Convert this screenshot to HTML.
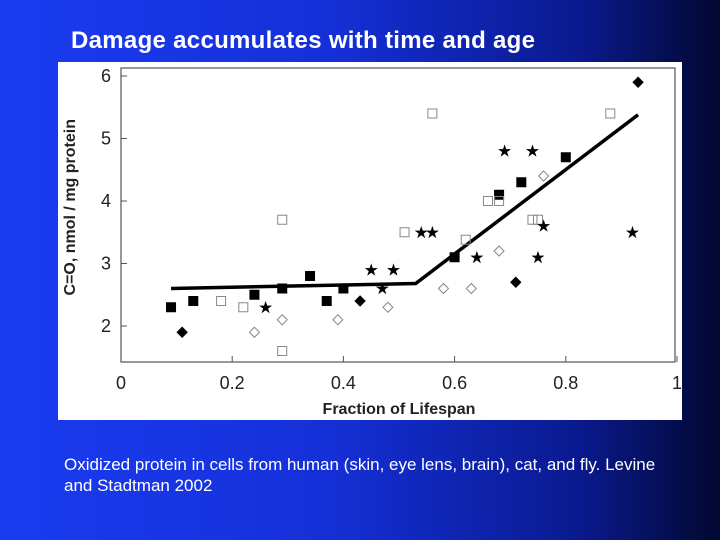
<!DOCTYPE html>
<html><head><meta charset="utf-8"><style>
body{margin:0;width:720px;height:540px;overflow:hidden;background:linear-gradient(90deg,#1a3cf0 0%,#1530d8 45%,#0a1a90 80%,#020830 100%);font-family:"Liberation Sans",sans-serif;position:relative}
#title{position:absolute;left:71px;top:27px;color:#fff;font-weight:bold;font-size:24px;letter-spacing:0.3px}
#panel{position:absolute;left:58px;top:62px;width:624px;height:358px;background:#fff}
#foot{position:absolute;left:64px;top:454px;color:#fff;font-size:17px;line-height:21px;width:610px}
</style></head><body>
<div id="title">Damage accumulates with time and age</div>
<div id="panel">
<svg id="chart" width="624" height="358"></svg>
</div>
<div id="foot">Oxidized protein in cells from human (skin, eye lens, brain), cat, and fly. Levine and Stadtman 2002</div>
<script>
const xTicks=[0,0.2,0.4,0.6,0.8,1];
const xTickLabels=["0","0.2","0.4","0.6","0.8","1"];
const yTicks=[2,3,4,5,6];
const filledSqX=[0.09,0.13,0.24,0.29,0.34,0.37,0.40,0.60,0.68,0.72,0.80];
const filledSqY=[2.3,2.4,2.5,2.6,2.8,2.4,2.6,3.1,4.1,4.3,4.7];
const openSqX=[0.18,0.22,0.29,0.29,0.51,0.56,0.62,0.66,0.68,0.74,0.75,0.88];
const openSqY=[2.4,2.3,3.7,1.6,3.5,5.4,3.38,4.0,4.0,3.7,3.7,5.4];
const openDiX=[0.24,0.29,0.39,0.48,0.58,0.63,0.68,0.76];
const openDiY=[1.9,2.1,2.1,2.3,2.6,2.6,3.2,4.4];
const filledDiX=[0.11,0.43,0.71,0.93];
const filledDiY=[1.9,2.4,2.7,5.9];
const starX=[0.26,0.45,0.47,0.49,0.54,0.56,0.64,0.69,0.74,0.75,0.76,0.92];
const starY=[2.3,2.9,2.6,2.9,3.5,3.5,3.1,4.8,4.8,3.1,3.6,3.5];
const fitX=[0.09,0.53,0.93];
const fitY=[2.6,2.68,5.38];

const ox=58,oy=62;
const X=v=>121-ox+v*556;
const Y=v=>326-oy-(v-2)*62.5;
const svg=document.getElementById('chart');
const NS='http://www.w3.org/2000/svg';
function mk(t,a){const e=document.createElementNS(NS,t);for(const k in a)e.setAttribute(k,a[k]);svg.appendChild(e);return e;}
let e=mk('rect',{x:X(0),y:6,width:X(1)-X(0)-2,height:294,fill:'none',stroke:'#555','stroke-width':1.2});


xTicks.forEach((v,i)=>{
 let t=mk('line',{x1:X(v),x2:X(v),y1:300,y2:294,stroke:'#555'});
 
 
 let l=mk('text',{x:X(v),y:327,'text-anchor':'middle','font-size':18,fill:'#222'});l.textContent=xTickLabels[i];
 
 
});
yTicks.forEach(v=>{
 let t=mk('line',{x1:X(0),x2:X(0)+6,y1:Y(v),y2:Y(v),stroke:'#555'});
 
 
 let l=mk('text',{x:X(0)-10,y:Y(v)+6,'text-anchor':'end','font-size':18,fill:'#222'});l.textContent=v;
 
 
});
let xt=mk('text',{x:X(0.5),y:352,'text-anchor':'middle','font-size':16,'font-weight':'bold',fill:'#222'});xt.textContent='Fraction of Lifespan';


let yt=mk('text',{x:0,y:0,'text-anchor':'middle','font-size':16,'font-weight':'bold',fill:'#222',transform:`translate(17,${Y(3.9)}) rotate(-90)`});yt.textContent='C=O, nmol / mg protein';


let pts=fitX.map((v,i)=>X(v)+','+Y(fitY[i])).join(' ');
let fl=mk('polyline',{points:pts,fill:'none',stroke:'#000','stroke-width':3.5});


function sq(xs,ys,fill,name){xs.forEach((v,i)=>{let r=mk('rect',{x:X(v)-4.5,y:Y(ys[i])-4.5,width:9,height:9,fill:fill?'#000':'none',stroke:fill?'#000':'#888','stroke-width':1});
 
 });}
function di(xs,ys,fill,name){xs.forEach((v,i)=>{const cx=X(v),cy=Y(ys[i]);let r=mk('polygon',{points:`${cx},${cy-5} ${cx+5},${cy} ${cx},${cy+5} ${cx-5},${cy}`,fill:fill?'#000':'none',stroke:fill?'#000':'#888','stroke-width':1});
 
 });}
sq(filledSqX,filledSqY,true,'filled-square-point');
sq(openSqX,openSqY,false,'open-square-point');
di(openDiX,openDiY,false,'open-diamond-point');
di(filledDiX,filledDiY,true,'filled-diamond-point');
starX.forEach((v,i)=>{let s=mk('text',{x:X(v),y:Y(starY[i])+5,'text-anchor':'middle','font-size':15,fill:'#000',stroke:'#000','stroke-width':0.5,'font-family':'DejaVu Sans'});s.textContent='★';
 
 });
</script>
</body></html>
